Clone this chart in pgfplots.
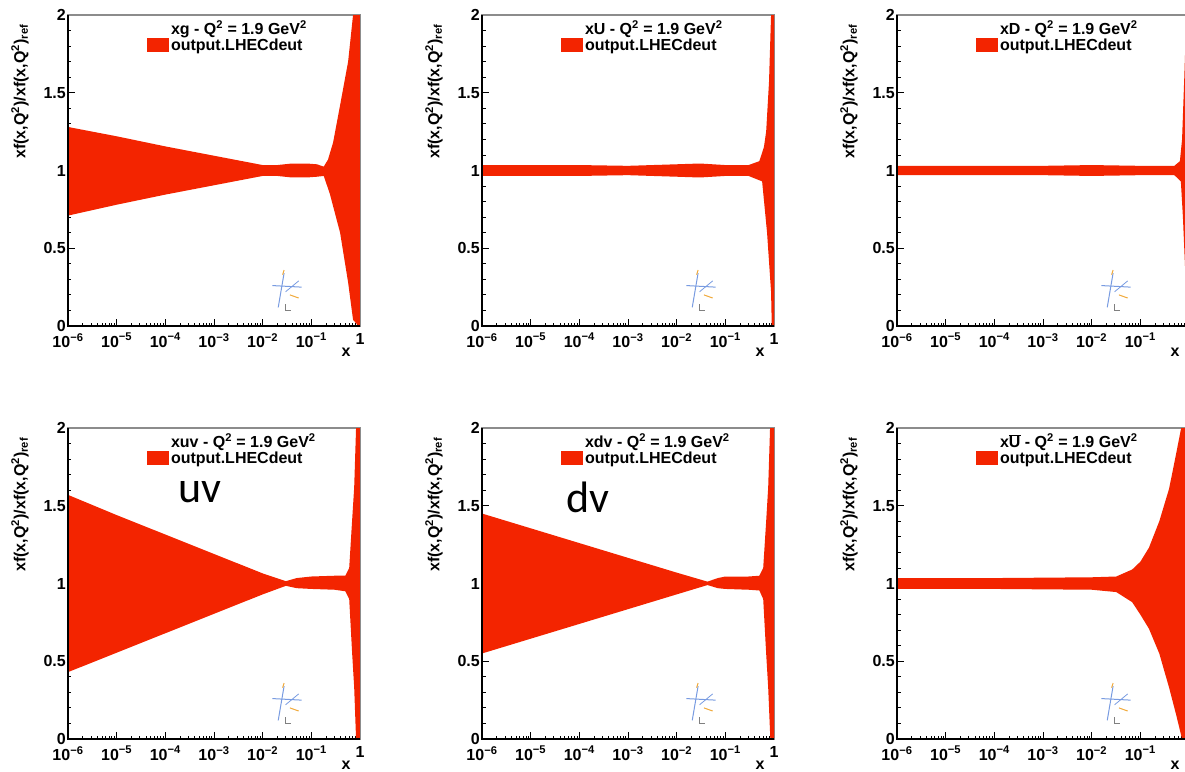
\documentclass[border=0pt]{standalone}
\usepackage{pgfplots}
\pgfplotsset{compat=1.18}
\usepackage{fontspec}
\setmainfont{Liberation Sans}
\newfontfamily\calib{Carlito}
\definecolor{bandred}{RGB}{243,36,0}
\definecolor{framegray}{RGB}{140,140,140}
\definecolor{logoblue}{RGB}{120,155,225}
\definecolor{logoorange}{RGB}{240,170,60}
\newcommand{\tfont}{\fontsize{16}{18}\selectfont\bfseries}
\pgfplotsset{
    scale only axis, width=292pt, height=311pt,
    xmin=1e-6, xmax=1, ymin=0, ymax=2,
    xtick={1e-6,1e-5,1e-4,1e-3,1e-2,1e-1,1},
    xticklabels={10\textsuperscript{−6},10\textsuperscript{−5},10\textsuperscript{−4},10\textsuperscript{−3},10\textsuperscript{−2},10\textsuperscript{−1},1},
    minor xtick={2e-6,3e-6,4e-6,5e-6,6e-6,7e-6,8e-6,9e-6,
                 2e-5,3e-5,4e-5,5e-5,6e-5,7e-5,8e-5,9e-5,
                 2e-4,3e-4,4e-4,5e-4,6e-4,7e-4,8e-4,9e-4,
                 2e-3,3e-3,4e-3,5e-3,6e-3,7e-3,8e-3,9e-3,
                 2e-2,3e-2,4e-2,5e-2,6e-2,7e-2,8e-2,9e-2,
                 0.2,0.3,0.4,0.5,0.6,0.7,0.8,0.9},
    ytick={0,0.5,1,1.5,2}, yticklabels={0,0.5,1,1.5,2},
    minor ytick={0.1,0.2,0.3,0.4,0.6,0.7,0.8,0.9,1.1,1.2,1.3,1.4,1.6,1.7,1.8,1.9},
    tick align=inside, xtick pos=left, ytick pos=left,
    major tick length=7pt, minor tick length=3.5pt,
    axis line style={framegray, line width=1.3pt},
    ticklabel style={font=\tfont},
    yticklabel style={inner xsep=2pt},
    xticklabel style={inner ysep=3pt, yshift=-4pt},
    legend style={at={(0.27,0.985)}, anchor=north west, draw=none, fill=none,
      inner sep=0pt, column sep=0pt, row sep=0pt, font=\tfont,
      nodes={inner xsep=2pt, inner ysep=1pt}},
    legend cell align=left,
    legend image code/.code={\fill[bandred] (0pt,-7pt) rectangle (22pt,7pt);},
}
\tikzset{every tick/.style={black, line width=0.9pt}}
\newcommand{\logo}{%
  \draw[logoblue, line width=1pt] (rel axis cs:0.70,0.13) -- (rel axis cs:0.80,0.125);
  \draw[logoblue, line width=1pt] (rel axis cs:0.74,0.17) -- (rel axis cs:0.72,0.06);
  \draw[logoblue, line width=0.8pt] (rel axis cs:0.745,0.11) -- (rel axis cs:0.79,0.145);
  \draw[logoorange, line width=1pt] (rel axis cs:0.735,0.165) -- (rel axis cs:0.74,0.18);
  \draw[logoorange, line width=1pt] (rel axis cs:0.76,0.10) -- (rel axis cs:0.79,0.09);
  \draw[gray, line width=0.6pt] (rel axis cs:0.745,0.07) -- (rel axis cs:0.745,0.05) -- (rel axis cs:0.765,0.05);
}
\newcommand{\frameblack}[1]{%
  \draw[black, line width=1.3pt] (#1.north west) -- (#1.south west) -- (#1.south east);
  \node[rotate=90, anchor=east, font=\tfont] at ([shift={(-48pt,-6pt)}]#1.north west)
    {xf(x,Q\textsuperscript{2})/xf(x,Q\textsuperscript{2})\textsubscript{ref}};
  \node[font=\tfont] at ([shift={(-14pt,-26pt)}]#1.south east) {x};
}
\begin{document}
\begin{tikzpicture}[x=1pt,y=1pt]
% ---------- xg ----------
\begin{semilogxaxis}[name=p1, at={(68pt,-15pt)}, anchor=north west]
\addlegendimage{empty legend}\addlegendentry{xg - Q\textsuperscript{2} = 1.9 GeV\textsuperscript{2}}
\addplot[fill=bandred, draw=none] coordinates {
(1e-6,1.28)(1e-5,1.22)(1e-4,1.155)(1e-3,1.095)(1e-2,1.035)(2e-2,1.035)(4e-2,1.045)(8e-2,1.045)(0.13,1.04)(0.18,1.025)(0.22,1.07)(0.28,1.18)(0.39,1.42)(0.57,1.7)(0.72,2.0)(1,2)
(1,0)(0.93,0)(0.72,0.04)(0.57,0.28)(0.39,0.6)(0.24,0.85)(0.18,0.965)(0.13,0.96)(0.08,0.955)(0.04,0.955)(0.02,0.965)(1e-2,0.965)(1e-3,0.905)(1e-4,0.845)(1e-5,0.78)(1e-6,0.71)
};
\addlegendentry{output.LHECdeut}
\logo
\end{semilogxaxis}
% ---------- xU ----------
\begin{semilogxaxis}[name=p2, at={(482pt,-15pt)}, anchor=north west]
\addlegendimage{empty legend}\addlegendentry{xU - Q\textsuperscript{2} = 1.9 GeV\textsuperscript{2}}
\addplot[fill=bandred, draw=none] coordinates {
(1e-6,1.035)(1e-4,1.035)(1e-3,1.03)(1e-2,1.04)(3e-2,1.045)(0.1,1.035)(0.3,1.035)(0.5,1.06)(0.62,1.15)(0.69,1.25)(0.79,1.57)(0.87,2)(1,2)
(1,0)(0.9,0)(0.87,0.22)(0.72,0.6)(0.57,0.93)(0.3,0.965)(0.1,0.965)(3e-2,0.955)(1e-2,0.96)(1e-3,0.97)(1e-4,0.965)(1e-6,0.965)
};
\addlegendentry{output.LHECdeut}
\logo
\end{semilogxaxis}
% ---------- xD ----------
\begin{semilogxaxis}[name=p3, at={(897pt,-15pt)}, anchor=north west]
\addlegendimage{empty legend}\addlegendentry{xD - Q\textsuperscript{2} = 1.9 GeV\textsuperscript{2}}
\addplot[fill=bandred, draw=none] coordinates {
(1e-6,1.03)(1e-3,1.03)(1e-2,1.035)(0.1,1.03)(0.5,1.03)(0.65,1.06)(0.72,1.2)(0.8,1.6)(0.88,2)(1,2)
(1,0)(0.92,0)(0.85,0.3)(0.75,0.7)(0.68,0.93)(0.5,0.97)(0.1,0.97)(1e-2,0.965)(1e-3,0.97)(1e-6,0.97)
};
\addlegendentry{output.LHECdeut}
\logo
\end{semilogxaxis}
% ---------- xuv ----------
\begin{semilogxaxis}[name=p4, at={(68pt,-428pt)}, anchor=north west]
\addlegendimage{empty legend}\addlegendentry{xuv - Q\textsuperscript{2} = 1.9 GeV\textsuperscript{2}}
\addplot[fill=bandred, draw=none] coordinates {
(1e-6,1.57)(1e-5,1.44)(1e-4,1.315)(1e-3,1.19)(1e-2,1.065)(0.03,1.015)(0.05,1.035)(0.1,1.045)(0.3,1.05)(0.5,1.05)(0.6,1.1)(0.69,1.41)(0.76,1.62)(0.83,2)(1,2)
(1,0)(0.83,0)(0.76,0.33)(0.69,0.55)(0.6,0.9)(0.5,0.95)(0.3,0.96)(0.1,0.965)(0.05,0.97)(0.03,0.985)(1e-2,0.93)(1e-3,0.805)(1e-4,0.68)(1e-5,0.555)(1e-6,0.43)
};
\addlegendentry{output.LHECdeut}
\logo
\end{semilogxaxis}
% ---------- xdv ----------
\begin{semilogxaxis}[name=p5, at={(482pt,-428pt)}, anchor=north west]
\addlegendimage{empty legend}\addlegendentry{xdv - Q\textsuperscript{2} = 1.9 GeV\textsuperscript{2}}
\addplot[fill=bandred, draw=none] coordinates {
(1e-6,1.45)(1e-5,1.355)(1e-4,1.26)(1e-3,1.165)(1e-2,1.07)(0.043,1.012)(0.07,1.035)(0.1,1.045)(0.3,1.045)(0.5,1.05)(0.6,1.1)(0.69,1.4)(0.76,1.62)(0.83,2)(1,2)
(1,0)(0.84,0)(0.76,0.33)(0.69,0.55)(0.6,0.9)(0.5,0.955)(0.3,0.96)(0.1,0.965)(0.07,0.97)(0.043,0.99)(1e-2,0.93)(1e-3,0.835)(1e-4,0.74)(1e-5,0.645)(1e-6,0.55)
};
\addlegendentry{output.LHECdeut}
\logo
\end{semilogxaxis}
% ---------- xUbar ----------
\begin{semilogxaxis}[name=p6, at={(897pt,-428pt)}, anchor=north west]
\addlegendimage{empty legend}\addlegendentry{x\ensuremath{\overline{\mbox{U}}} - Q\textsuperscript{2} = 1.9 GeV\textsuperscript{2}}
\addplot[fill=bandred, draw=none] coordinates {
(1e-6,1.035)(1e-4,1.035)(1e-2,1.04)(0.032,1.045)(0.068,1.09)(0.1,1.14)(0.15,1.23)(0.245,1.40)(0.39,1.61)(0.54,1.83)(0.69,2.0)(1,2)
(1,0)(0.72,0)(0.54,0.16)(0.39,0.33)(0.245,0.55)(0.15,0.71)(0.1,0.8)(0.068,0.88)(0.032,0.945)(1e-2,0.96)(1e-4,0.965)(1e-6,0.965)
};
\addlegendentry{output.LHECdeut}
\logo
\end{semilogxaxis}
\frameblack{p1}\frameblack{p2}\frameblack{p3}
\frameblack{p4}\frameblack{p5}\frameblack{p6}
\node[anchor=base west, font=\calib\fontsize{44}{48}\selectfont, inner sep=0pt] at ([shift={(110pt,-74pt)}]p4.north west) {uv};
\node[anchor=base west, font=\calib\fontsize{44}{48}\selectfont, inner sep=0pt] at ([shift={(84pt,-84pt)}]p5.north west) {dv};
\pgfresetboundingbox
\path[use as bounding box] (0pt,0pt) rectangle (1185pt,-771pt);
\end{tikzpicture}
\end{document}
